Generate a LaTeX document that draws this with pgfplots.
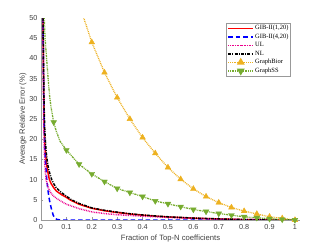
\documentclass[border=0pt]{standalone}
\usepackage{pgfplots}
\pgfplotsset{compat=1.18}
\usepackage{fontspec}
\setmainfont{Liberation Sans}
\newfontfamily\legfont{Liberation Serif}
\definecolor{morange}{rgb}{0.929,0.694,0.125}
\definecolor{mgreen}{rgb}{0.466,0.674,0.188}
\definecolor{axgray}{gray}{0.6}
\definecolor{txtgray}{gray}{0.25}
\begin{document}
\begin{tikzpicture}
\useasboundingbox (-41bp,-27bp) rectangle (288bp,220bp);
\begin{axis}[
  scale only axis, width=259bp, height=202bp,
  at={(0,0)}, anchor=south west,
  xmin=0, xmax=1.02, ymin=0, ymax=50,
  axis x line*=bottom, axis y line*=left,
  axis line style={-, draw=axgray, line width=0.9pt},
  xtick={0,0.1,...,1.0}, ytick={0,5,...,50},
  xticklabels={0,0.1,0.2,0.3,0.4,0.5,0.6,0.7,0.8,0.9,1},
  tick style={draw=axgray, line width=0.5pt},
  tick align=inside, major tick length=2.5bp,
  /pgf/number format/assume math mode=true,
  tick label style={font=\fontsize{7.3}{8}\selectfont, text=txtgray},
  xticklabel style={yshift=-1bp},
  label style={font=\fontsize{7.7}{9}\selectfont, text=txtgray},
  xlabel={Fraction of Top-N coefficients},
  ylabel={Average Relative Error (\%)},
  xlabel style={at={(axis description cs:0.5,-0.094)}, anchor=center},
  ylabel style={at={(axis description cs:-0.0695,0.5)}, anchor=center},
  clip=true,
  legend cell align=left,
  legend style={at={(0.965,0.975)}, anchor=north east, draw=axgray, line width=0.5pt,
    font=\legfont\fontsize{6.5}{7}\selectfont, inner sep=1bp, row sep=0.2bp,
    nodes={inner sep=1.2bp}},
  legend image code/.code={\draw[mark repeat=2,mark phase=2,#1] plot coordinates {(0bp,0bp)(12.5bp,0bp)(25bp,0bp)};},
  borstyle/.style={morange, line width=1.3pt, dash pattern=on 0.9bp off 0.9bp},
  ssstyle/.style={mgreen, line width=1.3pt, dash pattern=on 0.9bp off 0.9bp on 0.9bp off 0.9bp on 2.2bp off 0.9bp},
  bormark/.style={mark=triangle*, mark size=3.3bp, mark options={solid, fill=morange, draw=morange}},
  ssmark/.style={mark=triangle*, mark size=3.3bp, mark options={solid, rotate=180, fill=mgreen, draw=mgreen}},
]
% GIB-II(1,20)
\addplot[red, line width=1.5pt] coordinates {
(0.008,50)(0.01,35)(0.012,25)(0.015,19)(0.02,15)(0.025,12.5)(0.033,10)(0.04,9)(0.05,8)(0.06,7.2)(0.08,6.3)(0.1,5.6)(0.114,5)(0.15,3.9)(0.2,2.9)(0.25,2.3)(0.3,1.85)(0.35,1.5)(0.4,1.2)(0.45,0.95)(0.5,0.75)(0.6,0.45)(0.7,0.25)(0.8,0.1)(0.9,0.04)(1,0)};
\addlegendentry{GIB-II(1,20)}
% GIB-II(4,20)
\addplot[blue, line width=1.5pt, dash pattern=on 4.5bp off 3bp] coordinates {
(0.008,50)(0.01,35)(0.012,25)(0.015,17)(0.018,14)(0.022,10.5)(0.027,7.5)(0.033,5)(0.04,3)(0.048,1.2)(0.055,0.4)(0.065,0.1)(0.08,0)(0.2,0)(0.4,0)(0.6,0)(0.8,0)(1,0)};
\addlegendentry{GIB-II(4,20)}
% UL
\addplot[magenta, line width=1.5pt, dash pattern=on 0.8bp off 0.9bp] coordinates {
(0.008,50)(0.01,30)(0.012,20)(0.015,13.5)(0.02,10)(0.03,7.7)(0.04,6.6)(0.05,5.9)(0.06,5.4)(0.075,4.8)(0.1,3.9)(0.15,2.8)(0.2,2.0)(0.25,1.6)(0.3,1.3)(0.4,0.95)(0.5,0.65)(0.6,0.4)(0.7,0.22)(0.8,0.1)(0.9,0.03)(1,0)};
\addlegendentry{UL}
% NL
\addplot[black, line width=1.5pt, dash pattern=on 3bp off 1.2bp on 1bp off 1.2bp] coordinates {
(0.008,50)(0.01,38)(0.012,29)(0.015,22)(0.02,17)(0.025,14.5)(0.03,12.5)(0.042,10)(0.05,9)(0.06,8)(0.08,6.8)(0.1,5.9)(0.12,5.0)(0.15,4.1)(0.2,3.0)(0.25,2.4)(0.3,1.95)(0.35,1.55)(0.4,1.25)(0.45,1.0)(0.5,0.8)(0.6,0.48)(0.7,0.27)(0.8,0.12)(0.9,0.05)(1,0)};
\addlegendentry{NL}
% GraphBior line
\addplot[borstyle, forget plot] coordinates {
(0.15,53.5)(0.2,44.0)(0.25,36.5)(0.3,30.3)(0.35,25.0)(0.4,20.4)(0.45,16.5)(0.5,13.0)(0.55,10.1)(0.6,7.7)(0.65,5.8)(0.7,4.3)(0.75,3.1)(0.8,2.2)(0.85,1.5)(0.9,0.8)(0.95,0.4)(1,0)};
\addplot[only marks, bormark, forget plot] coordinates {
(0.2,44.0)(0.25,36.5)(0.3,30.3)(0.35,25.0)(0.4,20.4)(0.45,16.5)(0.5,13.0)(0.55,10.1)(0.6,7.7)(0.65,5.8)(0.7,4.3)(0.75,3.1)(0.8,2.2)(0.85,1.5)(0.9,0.8)(0.95,0.4)(1,0)};
\addlegendimage{borstyle, bormark}
\addlegendentry{GraphBior}
% GraphSS line
\addplot[ssstyle, forget plot] coordinates {
(0.013,50)(0.016,45)(0.022,40)(0.028,35)(0.035,30)(0.042,27)(0.05,24.2)(0.06,22)(0.075,19.5)(0.1,17.3)(0.15,13.8)(0.2,11.4)(0.25,9.5)(0.3,7.8)(0.35,6.8)(0.4,5.8)(0.45,4.7)(0.5,4.0)(0.55,3.3)(0.6,2.6)(0.65,2.1)(0.7,1.6)(0.75,1.2)(0.8,0.8)(0.85,0.55)(0.9,0.3)(0.95,0.15)(1,0)};
\addplot[only marks, ssmark, forget plot] coordinates {
(0.05,24.2)(0.1,17.3)(0.15,13.8)(0.2,11.4)(0.25,9.5)(0.3,7.8)(0.35,6.8)(0.4,5.8)(0.45,4.7)(0.5,4.0)(0.55,3.3)(0.6,2.6)(0.65,2.1)(0.7,1.6)(0.75,1.2)(0.8,0.8)(0.85,0.55)(0.9,0.3)(0.95,0.15)(1,0)};
\addlegendimage{ssstyle, ssmark}
\addlegendentry{GraphSS}
\end{axis}
\end{tikzpicture}
\end{document}
